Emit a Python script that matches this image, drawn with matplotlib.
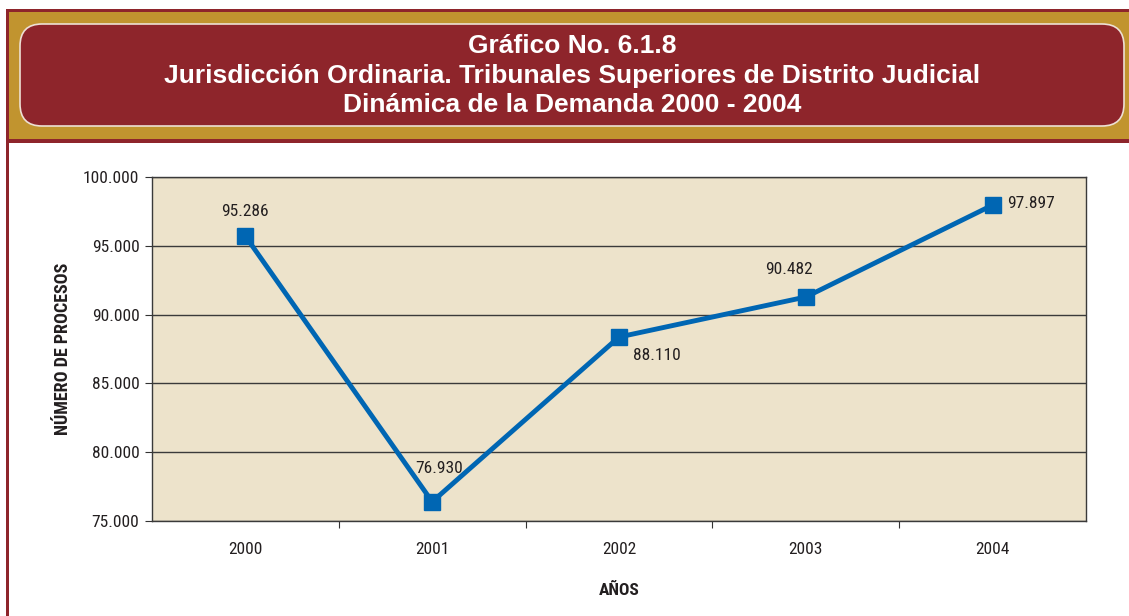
import matplotlib.pyplot as plt
from matplotlib.patches import Rectangle, FancyBboxPatch
from matplotlib.ticker import FixedLocator, FuncFormatter

# data
years = ["2000", "2001", "2002", "2003", "2004"]
procesos = [95700, 76400, 88370, 91280, 97960]  # marker positions as drawn
labels = ["95.286", "76.930", "88.110", "90.482", "97.897"]  # printed values
y_ticks = [75000, 80000, 85000, 90000, 95000, 100000]

title = ("Gráfico No. 6.1.8\n"
         "Jurisdicción Ordinaria. Tribunales Superiores de Distrito Judicial\n"
         "Dinámica de la Demanda 2000 - 2004")

W, H = 1129, 616
narrow = ["Roboto Condensed", "Liberation Sans", "DejaVu Sans"]
plt.rcParams["font.family"] = narrow

fig = plt.figure(figsize=(W / 100, H / 100), dpi=100, facecolor="white")


def px(x0, y0, x1, y1):
    # pixel box (top-left origin) -> figure fraction (x, y, w, h)
    return x0 / W, 1 - y1 / H, (x1 - x0) / W, (y1 - y0) / H


red = "#8E252B"
gold = "#C1942F"
ink = "#231F20"

# outer frame
x, y, w, h = px(6, 9, 1135, 143)
fig.patches.append(Rectangle((x, y), w, h, transform=fig.transFigure,
                             facecolor=red, edgecolor="none", zorder=0))
x, y, w, h = px(9, 12, 1135, 139)
fig.patches.append(Rectangle((x, y), w, h, transform=fig.transFigure,
                             facecolor=gold, edgecolor="none", zorder=1))
x, y, w, h = px(6, 9, 9, 620)
fig.patches.append(Rectangle((x, y), w, h, transform=fig.transFigure,
                             facecolor=red, edgecolor="none", zorder=1))

# rounded title box
r = 22
x, y, w, h = px(20 + r, 24 + r, 1124 - r, 126 - r)
box = FancyBboxPatch((x * W, y * H), w * W, h * H,
                     boxstyle="round,pad=%d" % r,
                     transform=None, facecolor=red, edgecolor="#EDE0D4",
                     linewidth=1.2, zorder=2)
fig.patches.append(box)

fig.text(572 / W, 1 - 75.5 / H, title, ha="center", va="center", color="white",
         fontsize=19, fontweight="bold", linespacing=1.27,
         family=["Liberation Sans", "DejaVu Sans"], zorder=3)

# plot area
x, y, w, h = px(152, 177, 1086, 521)
ax = fig.add_axes([x, y, w, h])
ax.set_facecolor("#EDE3CB")

xs = list(range(len(years)))
ax.plot(xs, procesos, color="#0066B3", linewidth=3.5, marker="s",
        markersize=11, markeredgecolor="#0066B3", zorder=3)

offsets = [(0, 18), (5, 24), (27, -13), (-12, 20), (28, 1)]
for i, (lab, off) in enumerate(zip(labels, offsets)):
    ax.annotate(lab, (xs[i], procesos[i]), xytext=off, textcoords="offset points",
                ha="center", va="center", fontsize=12.5, color=ink)

ax.set_xlim(-0.5, len(years) - 0.5)
ax.set_ylim(75000, 100000)
ax.yaxis.set_major_locator(FixedLocator(y_ticks))
ax.yaxis.set_major_formatter(FuncFormatter(lambda v, p: f"{int(v):,}".replace(",", ".")))
ax.grid(axis="y", color="#3A3A3A", linewidth=1)
ax.set_axisbelow(True)

ax.set_xticks([i + 0.5 for i in xs[:-1]])
ax.set_xticklabels([])
ax.set_xticks(xs, minor=True)
ax.set_xticklabels(years, minor=True)
ax.tick_params(axis="x", which="minor", length=0, pad=15, labelsize=12.5,
               colors=ink)
ax.tick_params(axis="x", which="major", length=5, color="#333333")
ax.tick_params(axis="y", length=5, pad=4, labelsize=12.5, colors=ink)
ax.tick_params(axis="y", color="#333333")

for s in ax.spines.values():
    s.set_color("#3A3A3A")
    s.set_linewidth(1)

ax.set_xlabel("AÑOS", fontsize=12.5, fontweight="bold", labelpad=19, color=ink)
ax.set_ylabel("NÚMERO DE PROCESOS", fontsize=13, fontweight="bold",
              labelpad=8, color=ink)

fig.savefig("out.png", dpi=100, facecolor="white")
